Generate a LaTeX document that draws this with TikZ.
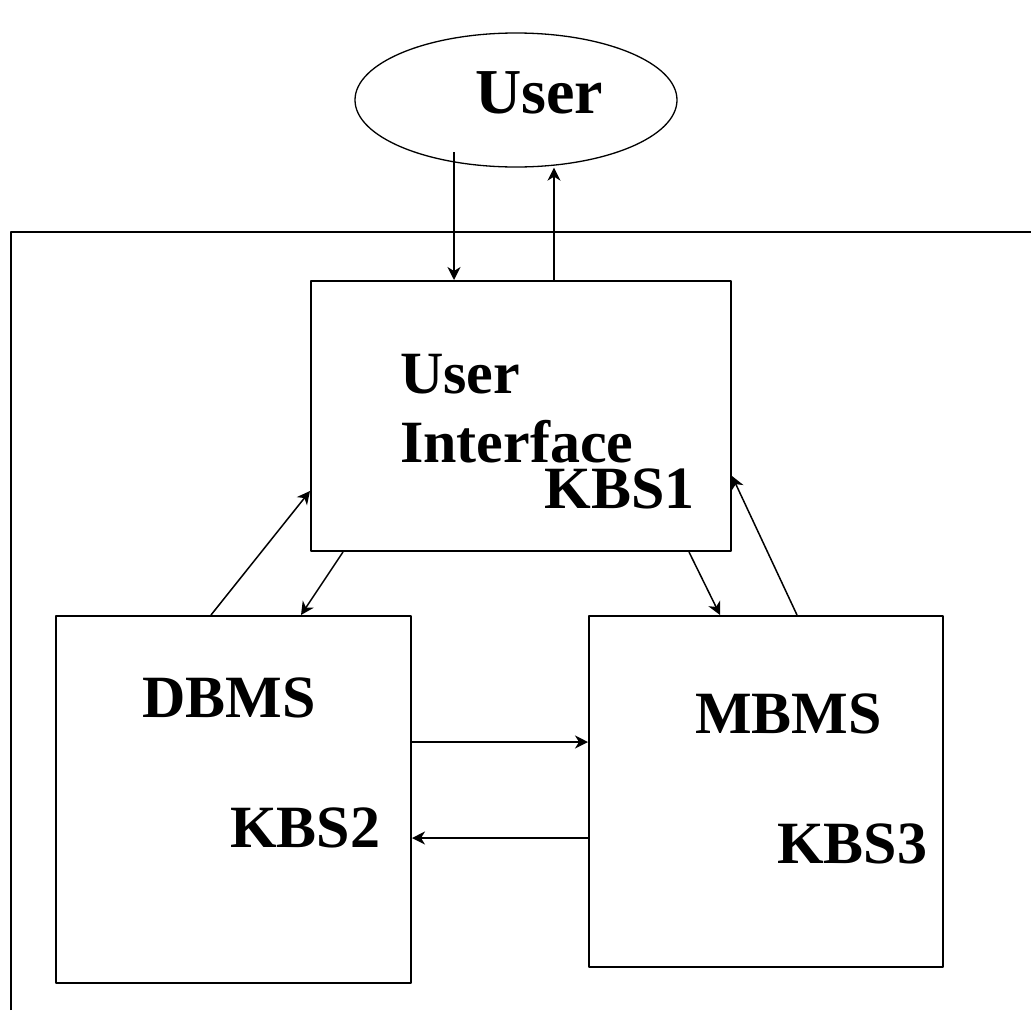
\documentclass[tikz,border=0pt]{standalone}
\usepackage{fontspec}
\setmainfont{Liberation Serif}
\usetikzlibrary{shapes.geometric,arrows.meta}
\begin{document}
\begin{tikzpicture}[x=1pt,y=-1pt,>={Stealth[length=13pt,width=13pt,inset=4pt]},line join=round,
	box/.style={draw,line width=2pt,rectangle,inner sep=0pt},
	lbl/.style={inner sep=0pt,font=\fontsize{60pt}{70pt}\selectfont\bfseries},
	conn/.style={->,line width=1.5pt}]
	\useasboundingbox (0,0) rectangle (1031,1010);
	\draw[line width=2pt] (11,1010)--(11,232)--(1031,232);
	\node[draw,ellipse,line width=1.3pt,minimum width=322pt,minimum height=134pt,inner sep=0pt] (user) at (516,100) {};
	\node[box,minimum width=420pt,minimum height=270pt] (ui) at (521,416) {};
	\node[box,minimum width=355pt,minimum height=367pt] (dbms) at (233.5,799.5) {};
	\node[box,minimum width=354pt,minimum height=351pt] (mbms) at (766,791.5) {};
	\node[lbl,anchor=base west,font=\fontsize{64pt}{70pt}\selectfont\bfseries] (userlbl) at (475,113) {User};
	\node[lbl,anchor=base west] (uilbla) at (400,393) {User};
	\node[lbl,anchor=base west] (uilblb) at (400,462) {Interface};
	\node[lbl,anchor=base east] (uilblc) at (695,508) {KBS1};
	\node[lbl,anchor=base west] (dblbla) at (142,717) {DBMS};
	\node[lbl,anchor=base west] (dblblb) at (230,847) {KBS2};
	\node[lbl,anchor=base west] (mblbla) at (695,733) {MBMS};
	\node[lbl,anchor=base west] (mblblb) at (777,863) {KBS3};
	\draw[conn] ([xshift=144pt,yshift=128pt]ui.north west)--([xshift=144pt]ui.north west);
	\coordinate (uiup) at ([xshift=244pt]ui.north west);
	\draw[conn] (uiup)--(uiup |- user.south);
	\draw[conn] ([xshift=156pt]dbms.north west)--([yshift=61pt]ui.south west);
	\draw[conn] ([xshift=33pt]ui.south west)--([xshift=246pt]dbms.north west);
	\draw[conn] ([xshift=-43pt]ui.south east)--([xshift=132pt]mbms.north west);
	\draw[conn] ([xshift=209pt]mbms.north west)--([yshift=76pt]ui.south east);
	\coordinate (dbright) at ([yshift=-127pt]dbms.north east);
	\draw[conn] (dbright)--(dbright -| mbms.west);
	\coordinate (mbleft) at ([yshift=-223pt]mbms.north west);
	\draw[conn] (mbleft)--(mbleft -| dbms.east);
\end{tikzpicture}
\end{document}
